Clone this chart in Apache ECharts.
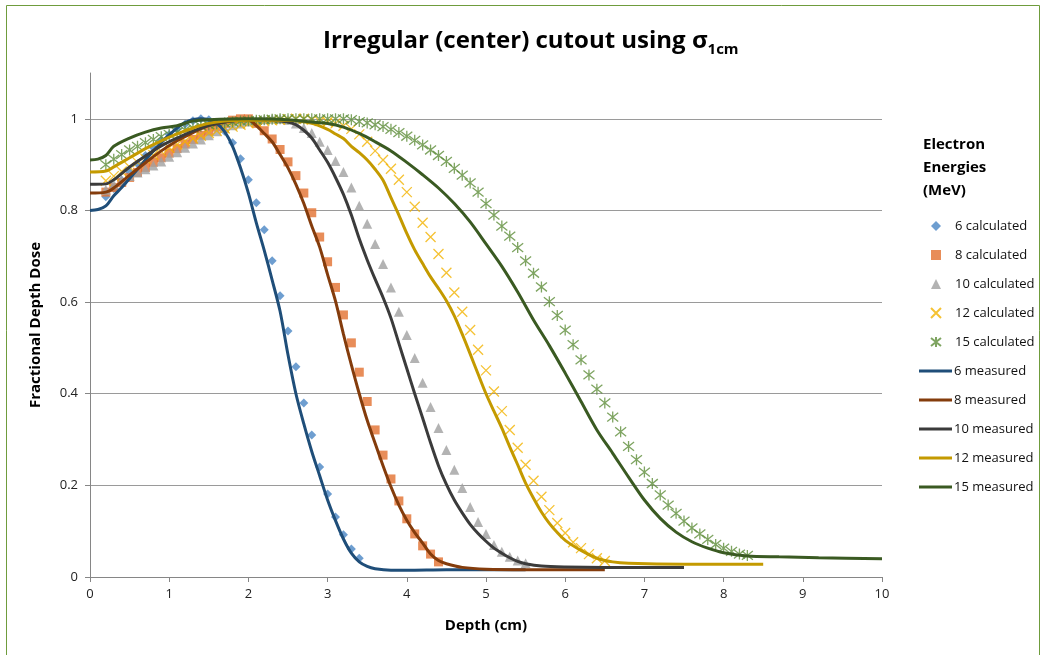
<!DOCTYPE html>
<html>
<head>
<meta charset="utf-8">
<script src="https://cdn.jsdelivr.net/npm/echarts@6/dist/echarts.min.js"></script>
<style>
  html, body { margin: 0; padding: 0; background: #fff; }
  #chart { width: 1042px; height: 655px; }
</style>
</head>
<body>
<div id="chart"></div>
<script>
// depth grid of the calculated points (cm)
const calcDepth = [0.2, 0.3, 0.4, 0.5, 0.6, 0.7, 0.8, 0.9, 1.0, 1.1, 1.2, 1.3, 1.4, 1.5, 1.6, 1.7, 1.8, 1.9, 2.0,
  2.1, 2.2, 2.3, 2.4, 2.5, 2.6, 2.7, 2.8, 2.9, 3.0, 3.1, 3.2, 3.3, 3.4, 3.5, 3.6, 3.7, 3.8, 3.9, 4.0,
  4.1, 4.2, 4.3, 4.4, 4.5, 4.6, 4.7, 4.8, 4.9, 5.0, 5.1, 5.2, 5.3, 5.4, 5.5, 5.6, 5.7, 5.8, 5.9, 6.0,
  6.1, 6.2, 6.3, 6.4, 6.5, 6.6, 6.7, 6.8, 6.9, 7.0, 7.1, 7.2, 7.3, 7.4, 7.5, 7.6, 7.7, 7.8, 7.9, 8.0,
  8.1, 8.2, 8.3];

// calculated values, index aligned with calcDepth
const calc6 = [0.83, 0.848, 0.866, 0.884, 0.902, 0.92, 0.937, 0.953, 0.966, 0.978, 0.988, 0.996, 1.0, 0.998, 0.99,
  0.973, 0.948, 0.913, 0.867, 0.817, 0.758, 0.69, 0.614, 0.537, 0.459, 0.38, 0.31, 0.24, 0.181, 0.131, 0.092,
  0.061, 0.041];
const calc8 = [0.84, 0.85, 0.861, 0.872, 0.883, 0.894, 0.905, 0.915, 0.925, 0.935, 0.945, 0.955, 0.964, 0.973, 0.982,
  0.99, 0.997, 1.0, 1.0, 0.99, 0.974, 0.956, 0.933, 0.906, 0.876, 0.838, 0.795, 0.742, 0.688, 0.632, 0.572,
  0.511, 0.447, 0.383, 0.321, 0.266, 0.214, 0.166, 0.127, 0.094, 0.068, 0.05, 0.033];
const calc10 = [0.845, 0.857, 0.866, 0.875, 0.883, 0.89, 0.898, 0.907, 0.917, 0.927, 0.937, 0.946, 0.955, 0.964, 0.973,
  0.98, 0.986, 0.99, 0.994, 0.997, 0.999, 1.0, 1.0, 0.998, 0.99, 0.98, 0.969, 0.95, 0.932, 0.908, 0.884,
  0.85, 0.81, 0.771, 0.727, 0.683, 0.632, 0.579, 0.528, 0.478, 0.424, 0.371, 0.325, 0.277, 0.234, 0.194, 0.153,
  0.12, 0.094, 0.07, 0.055, 0.044, 0.036, 0.03];
const calc12 = [0.865, 0.875, 0.885, 0.895, 0.905, 0.913, 0.921, 0.929, 0.937, 0.944, 0.951, 0.957, 0.963, 0.969, 0.974,
  0.979, 0.983, 0.987, 0.99, 0.993, 0.995, 0.997, 0.998, 0.999, 1.0, 1.0, 0.998, 0.995, 0.993, 0.99, 0.985,
  0.978, 0.966, 0.95, 0.93, 0.91, 0.891, 0.867, 0.84, 0.808, 0.773, 0.742, 0.705, 0.664, 0.621, 0.579, 0.539,
  0.496, 0.451, 0.405, 0.362, 0.321, 0.282, 0.245, 0.21, 0.175, 0.146, 0.118, 0.096, 0.076, 0.063, 0.05, 0.041,
  0.035];
const calc15 = [0.9, 0.912, 0.922, 0.932, 0.94, 0.948, 0.955, 0.961, 0.966, 0.971, 0.976, 0.98, 0.984, 0.987, 0.989,
  0.991, 0.993, 0.995, 0.996, 0.997, 0.998, 0.999, 1.0, 1.0, 1.0, 1.0, 1.0, 1.0, 1.0, 1.0, 1.0,
  0.998, 0.994, 0.991, 0.987, 0.983, 0.977, 0.97, 0.962, 0.953, 0.943, 0.932, 0.92, 0.907, 0.892, 0.877, 0.86,
  0.84, 0.815, 0.79, 0.766, 0.744, 0.719, 0.69, 0.663, 0.633, 0.601, 0.571, 0.539, 0.507, 0.474, 0.441, 0.41,
  0.38, 0.349, 0.317, 0.285, 0.256, 0.229, 0.204, 0.179, 0.157, 0.139, 0.122, 0.107, 0.094, 0.082, 0.071, 0.063,
  0.056, 0.05, 0.047];

// measured curves: depth (cm) and dose
const measDepth6 = [0, 0.1, 0.2, 0.3, 0.4, 0.6, 0.8, 1.0, 1.2, 1.4, 1.5, 1.6, 1.7, 1.8, 1.9, 2.0, 2.1, 2.2, 2.3, 2.4,
  2.5, 2.6, 2.7, 2.8, 2.9, 3.0, 3.1, 3.2, 3.3, 3.4, 3.5, 3.6, 3.8, 4.0, 4.5, 5.0, 5.5];
const meas6 = [0.80, 0.802, 0.81, 0.832, 0.85, 0.89, 0.93, 0.965, 0.992, 1.0, 0.998, 0.99, 0.972, 0.94, 0.893, 0.838,
  0.773, 0.713, 0.648, 0.58, 0.485, 0.40, 0.334, 0.274, 0.221, 0.168, 0.123, 0.083, 0.052, 0.033, 0.023, 0.018,
  0.015, 0.015, 0.016, 0.016, 0.016];
const measDepth8 = [0, 0.2, 0.3, 0.5, 0.7, 0.9, 1.1, 1.3, 1.5, 1.7, 1.9, 2.0, 2.1, 2.2, 2.3, 2.4, 2.5, 2.6, 2.7, 2.8,
  2.9, 3.0, 3.1, 3.2, 3.3, 3.4, 3.5, 3.6, 3.7, 3.8, 3.9, 4.0, 4.1, 4.2, 4.3, 4.4, 4.5, 4.7, 5.0, 5.5, 6.0, 6.5];
const meas8 = [0.838, 0.84, 0.849, 0.877, 0.904, 0.93, 0.952, 0.97, 0.985, 0.993, 0.998, 0.998, 0.985, 0.968, 0.95,
  0.922, 0.893, 0.857, 0.815, 0.766, 0.72, 0.66, 0.602, 0.53, 0.463, 0.40, 0.342, 0.292, 0.243, 0.197, 0.157,
  0.124, 0.097, 0.074, 0.05, 0.036, 0.029, 0.021, 0.017, 0.016, 0.016, 0.016];
const measDepth10 = [0, 0.2, 0.3, 0.5, 0.7, 0.9, 1.1, 1.3, 1.5, 1.7, 1.9, 2.1, 2.3, 2.5, 2.6, 2.7, 2.8, 2.9, 3.0, 3.1,
  3.2, 3.3, 3.4, 3.5, 3.6, 3.7, 3.8, 3.9, 4.0, 4.1, 4.2, 4.3, 4.4, 4.5, 4.6, 4.7, 4.8, 4.9, 5.0, 5.1, 5.2, 5.3,
  5.4, 5.5, 5.7, 6.0, 6.5, 7.0, 7.5];
const meas10 = [0.857, 0.858, 0.867, 0.895, 0.919, 0.941, 0.958, 0.973, 0.986, 0.993, 0.997, 0.998, 0.997, 0.993, 0.987,
  0.975, 0.958, 0.932, 0.905, 0.872, 0.835, 0.79, 0.738, 0.692, 0.65, 0.61, 0.565, 0.51, 0.455, 0.40, 0.347, 0.293,
  0.243, 0.202, 0.168, 0.14, 0.115, 0.095, 0.078, 0.063, 0.052, 0.042, 0.034, 0.029, 0.024, 0.022, 0.021, 0.021,
  0.021];
const measDepth12 = [0, 0.2, 0.3, 0.5, 0.7, 0.9, 1.1, 1.3, 1.5, 1.7, 2.0, 2.5, 2.8, 3.0, 3.1, 3.2, 3.3, 3.4, 3.5, 3.6,
  3.7, 3.8, 3.9, 4.0, 4.1, 4.2, 4.3, 4.4, 4.5, 4.6, 4.7, 4.8, 4.9, 5.0, 5.1, 5.2, 5.3, 5.4, 5.5, 5.6, 5.7, 5.8,
  5.9, 6.0, 6.2, 6.4, 6.6, 6.8, 7.5, 8.5];
const meas12 = [0.884, 0.886, 0.895, 0.915, 0.935, 0.952, 0.967, 0.98, 0.99, 0.995, 0.997, 0.997, 0.99, 0.977, 0.967,
  0.957, 0.94, 0.926, 0.91, 0.89, 0.866, 0.828, 0.79, 0.75, 0.714, 0.684, 0.655, 0.63, 0.603, 0.57, 0.53, 0.487,
  0.443, 0.40, 0.362, 0.325, 0.284, 0.245, 0.205, 0.172, 0.142, 0.117, 0.097, 0.08, 0.058, 0.041, 0.033, 0.03,
  0.028, 0.028];
const measDepth15 = [0, 0.1, 0.2, 0.3, 0.5, 0.7, 0.9, 1.1, 1.3, 1.5, 2.0, 2.5, 2.8, 3.0, 3.2, 3.4, 3.6, 3.8, 4.0, 4.2,
  4.4, 4.6, 4.8, 5.0, 5.2, 5.4, 5.6, 5.8, 6.0, 6.2, 6.4, 6.6, 6.8, 7.0, 7.2, 7.4, 7.6, 7.8, 8.0, 8.3, 8.7, 9.2,
  10];
const meas15 = [0.91, 0.912, 0.92, 0.94, 0.958, 0.971, 0.98, 0.985, 0.995, 0.998, 1.0, 0.998, 0.993, 0.99, 0.982,
  0.968, 0.95, 0.93, 0.905, 0.878, 0.849, 0.815, 0.775, 0.727, 0.678, 0.622, 0.561, 0.505, 0.445, 0.383, 0.321,
  0.27, 0.218, 0.168, 0.128, 0.098, 0.077, 0.063, 0.053, 0.046, 0.044, 0.042, 0.04];

const xTicks = [0, 1, 2, 3, 4, 5, 6, 7, 8, 9, 10];
const yTicks = [0, 0.2, 0.4, 0.6, 0.8, 1];

const FONT = '"Open Sans", Lato, sans-serif';

const pairs = (xs, ys) => ys.map((v, i) => [xs[i], v]);

const crossPath = 'path://M0,0L10,10M10,0L0,10';
const starPath = 'path://M0,1L10,9M10,1L0,9M5,0L5,10';

const calcSeries = [
  { name: '6 calculated', vals: calc6, symbol: 'diamond', size: 9, color: '#4a86c4' },
  { name: '8 calculated', vals: calc8, symbol: 'rect', size: 9, color: '#e2702f' },
  { name: '10 calculated', vals: calc10, symbol: 'triangle', size: 10, color: '#a0a0a0' },
  { name: '12 calculated', vals: calc12, symbol: crossPath, size: 10, color: '#f2b300', stroke: true },
  { name: '15 calculated', vals: calc15, symbol: starPath, size: 11, color: '#5e8d3a', stroke: true }
].map(s => ({
  name: s.name,
  type: 'scatter',
  z: 2,
  symbol: s.symbol,
  symbolSize: s.size,
  itemStyle: s.stroke
    ? { color: 'rgba(0,0,0,0)', borderColor: s.color, borderWidth: 1.3 }
    : { color: s.color },
  data: pairs(calcDepth, s.vals)
}));

const measSeries = [
  { name: '6 measured', xs: measDepth6, ys: meas6, color: '#1f4e79' },
  { name: '8 measured', xs: measDepth8, ys: meas8, color: '#843c0c' },
  { name: '10 measured', xs: measDepth10, ys: meas10, color: '#3b3b3b' },
  { name: '12 measured', xs: measDepth12, ys: meas12, color: '#c49a00' },
  { name: '15 measured', xs: measDepth15, ys: meas15, color: '#3a5a22' }
].map(s => ({
  name: s.name,
  type: 'line',
  z: 3,
  symbol: 'none',
  smooth: 0.3,
  lineStyle: { color: s.color, width: 3 },
  itemStyle: { color: s.color },
  data: pairs(s.xs, s.ys)
}));

const legendText = { fontFamily: FONT, fontSize: 13, color: '#111', lineHeight: 16 };

const chart = echarts.init(document.getElementById('chart'));
chart.setOption({
  backgroundColor: '#fff',
  animation: false,
  textStyle: { fontFamily: FONT },
  title: [{
    text: '{a|Irregular (center) cutout using σ}{b|1cm}',
    left: 318,
    top: 20,
    textStyle: {
      rich: {
        a: { fontFamily: FONT, fontSize: 24, fontWeight: 'bold', color: '#000', lineHeight: 32 },
        b: { fontFamily: FONT, fontSize: 15, fontWeight: 'bold', color: '#000', verticalAlign: 'bottom', lineHeight: 32, padding: [12, 0, 0, 0] }
      }
    }
  }, {
    text: 'Electron\nEnergies\n(MeV)',
    left: 918,
    top: 128,
    textStyle: { fontFamily: FONT, fontSize: 15, fontWeight: 'bold', color: '#000', lineHeight: 23 }
  }],
  legend: [{
    orient: 'vertical',
    left: 925,
    top: 213,
    itemWidth: 10,
    itemHeight: 10,
    itemGap: 13,
    textStyle: Object.assign({ padding: [0, 0, 0, 9] }, legendText),
    data: calcSeries.map(s => s.name)
  }, {
    orient: 'vertical',
    left: 914,
    top: 358,
    icon: 'rect',
    itemWidth: 33,
    itemHeight: 3,
    itemGap: 13,
    textStyle: Object.assign({ padding: [0, 0, 0, -3] }, legendText),
    data: measSeries.map(s => s.name)
  }],
  grid: { left: 90, right: 160, top: 73, bottom: 78 },
  xAxis: {
    type: 'value',
    min: 0,
    max: 10,
    interval: 1,
    name: 'Depth (cm)',
    nameLocation: 'middle',
    nameGap: 41,
    nameTextStyle: { fontFamily: FONT, fontSize: 15, fontWeight: 'bold', color: '#000' },
    axisLine: { lineStyle: { color: '#868686' } },
    axisTick: { show: true, length: 5, lineStyle: { color: '#868686' } },
    axisLabel: {
      fontFamily: FONT, fontSize: 13, color: '#222', margin: 11,
      customValues: xTicks
    },
    splitLine: { show: false }
  },
  yAxis: {
    type: 'value',
    min: 0,
    max: 1.1,
    interval: 0.2,
    name: 'Fractional Depth Dose',
    nameLocation: 'middle',
    nameGap: 47,
    nameTextStyle: { fontFamily: FONT, fontSize: 15, fontWeight: 'bold', color: '#000' },
    axisLine: { show: true, lineStyle: { color: '#868686' } },
    axisTick: { show: true, length: 5, lineStyle: { color: '#868686' } },
    axisLabel: {
      fontFamily: FONT, fontSize: 13, color: '#222', margin: 12,
      showMaxLabel: false,
      formatter: v => (yTicks.indexOf(Math.round(v * 10) / 10) >= 0 ? String(Math.round(v * 10) / 10) : '')
    },
    splitLine: { show: true, showMaxLine: false, lineStyle: { color: '#9a9a9a', width: 1 } }
  },
  graphic: [{
    type: 'rect',
    silent: true,
    shape: { x: 6.5, y: 5.5, width: 1033, height: 670 },
    style: { fill: 'none', stroke: '#6f9c3d', lineWidth: 1 }
  }],
  series: calcSeries.concat(measSeries)
});
</script>
</body>
</html>
